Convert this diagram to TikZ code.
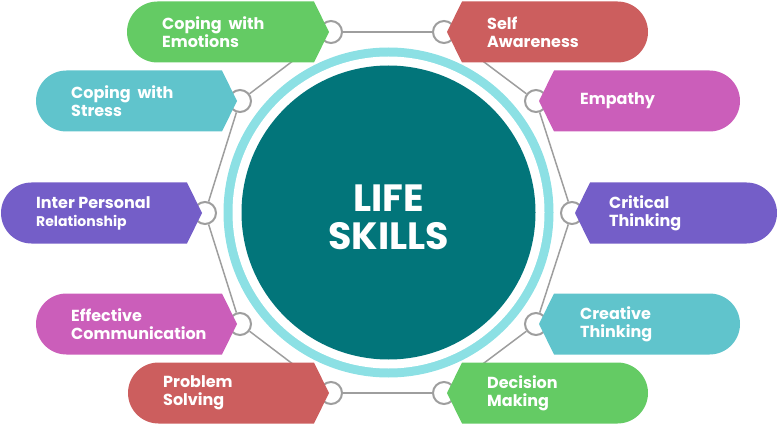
\documentclass[tikz,border=0pt]{standalone}
\usepackage{fontspec}
\setmainfont{Poppins}
\usetikzlibrary{positioning}

\definecolor{skillgreen}{RGB}{100,203,100}
\definecolor{skillred}{RGB}{204,94,94}
\definecolor{skillcyan}{RGB}{96,196,204}
\definecolor{skillpink}{RGB}{203,94,186}
\definecolor{skillpurple}{RGB}{116,94,200}
\definecolor{coreteal}{RGB}{2,117,122}
\definecolor{ringcyan}{RGB}{140,224,228}
\definecolor{linkgray}{RGB}{158,158,158}

\tikzset{
  hub/.style={circle, draw=linkgray, line width=2pt, fill=white, minimum size=22pt, inner sep=0pt},
  link/.style={draw=linkgray, line width=1.5pt},
  skilltext/.style={text=white, font=\bfseries\fontsize{16}{18}\selectfont, align=left, anchor=west, inner sep=0pt}
}

\begin{document}
\begin{tikzpicture}[x=1pt, y=-1pt]
  \useasboundingbox (0,0) rectangle (777,425);

  % centre
  \fill[ringcyan] (388.5,212.5) circle (165);
  \fill[white] (388.5,212.5) circle (156);
  \node[circle, fill=coreteal, minimum size=294pt, inner sep=0pt] (core) at (388.5,212.5) {};
  \node[text=white, font=\bfseries\fontsize{38}{38}\selectfont, align=center] (title) at (388.5,217) {LIFE\\SKILLS};

  % hubs on the ring
  \node[hub] (hemo)   at (331,32)  {};
  \node[hub] (hself)  at (444,32)  {};
  \node[hub] (hemp)   at (536,101) {};
  \node[hub] (hcrit)  at (572,213) {};
  \node[hub] (hcrea)  at (536,324) {};
  \node[hub] (hdec)   at (444,393) {};
  \node[hub] (hprob)  at (331,393) {};
  \node[hub] (heff)   at (240,324) {};
  \node[hub] (hinter) at (205,213) {};
  \node[hub] (hstress) at (240,101) {};

  \draw[link] (hemo) -- (hself);
  \draw[link] (hself) -- (hemp);
  \draw[link] (hemp) -- (hcrit);
  \draw[link] (hcrit) -- (hcrea);
  \draw[link] (hcrea) -- (hdec);
  \draw[link] (hdec) -- (hprob);
  \draw[link] (hprob) -- (heff);
  \draw[link] (heff) -- (hinter);
  \draw[link] (hinter) -- (hstress);
  \draw[link] (hstress) -- (hemo);

  % left tags
  \foreach \nm/\lx/\tx/\cy/\col/\txt in {
      emo/127/329/32/skillgreen/{Coping~~with\\Emotions},
      stress/36/237/101/skillcyan/{Coping~~with\\Stress},
      inter/1/202/213/skillpurple/{Inter Personal\\{\fontsize{14}{18}\selectfont Relationship}},
      eff/36/237/324/skillpink/{Effective\\Communication},
      prob/128/329/393/skillred/{Problem\\Solving}}
  {
    \fill[\col] (\lx+30.5,\cy-30.5) -- (\tx-15,\cy-30.5) -- (\tx,\cy) -- (\tx-15,\cy+30.5)
      -- (\lx+30.5,\cy+30.5) arc[start angle=90, end angle=270, radius=30.5] -- cycle;
    \node[skilltext] (\nm) at (\lx+35,\cy) {\txt};
  }

  % right tags
  \foreach \nm/\tx/\rx/\cy/\col/\txt in {
      self/447/648/32/skillred/{Self\\Awareness},
      emp/539/740/101/skillpink/{Empathy},
      crit/575/777/213/skillpurple/{Critical\\Thinking},
      crea/539/740/324/skillcyan/{Creative\\Thinking},
      dec/447/648/393/skillgreen/{Decision\\Making}}
  {
    \fill[\col] (\tx,\cy) -- (\tx+15,\cy-30.5) -- (\rx-30.5,\cy-30.5)
      arc[start angle=-90, end angle=90, radius=30.5] -- (\tx+15,\cy+30.5) -- cycle;
  }
  \node[skilltext] (self) at (487,32)  {Self\\Awareness};
  \node[skilltext] (emp)  at (580,101) {Empathy};
  \node[skilltext] (crit) at (609,213) {Critical\\Thinking};
  \node[skilltext] (crea) at (580,324) {Creative\\Thinking};
  \node[skilltext] (dec)  at (487,393) {Decision\\Making};
\end{tikzpicture}
\end{document}
